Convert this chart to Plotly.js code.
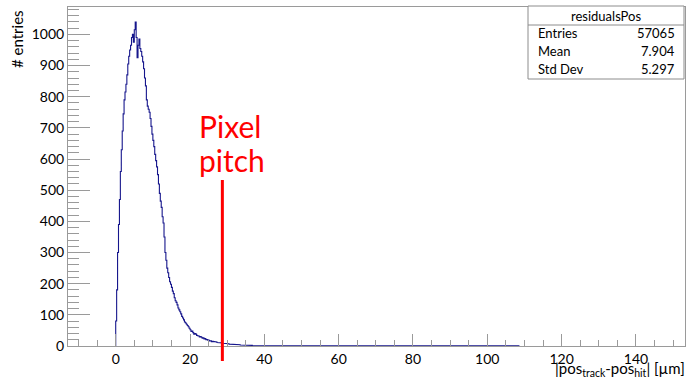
<!DOCTYPE html>
<html>
<head>
<meta charset="utf-8">
<script src="https://cdn.plot.ly/plotly-3.0.1.min.js"></script>
<style>html,body{margin:0;padding:0;background:#fff;}#chart{width:689px;height:379px;}</style>
</head>
<body>
<div id="chart"></div>
<script>
// ---- data ----
const histName = "residualsPos";
const binStart = 0;        // µm, lower edge of first bin
const binWidth = 0.25;     // µm
const counts = [
  80,180,300,390,470,560,630,690,745,790,815,840,870,905,930,950,965,990,1000,975,
  1015,1040,990,925,965,985,955,945,930,912,890,860,835,790,770,760,750,730,705,680,
  660,640,615,595,575,550,520,490,465,445,415,395,350,300,275,250,235,220,206,198,
  188,176,168,155,145,140,132,122,116,110,103,95,90,84,77,74,70,66,62,57,
  52,47,48,43,38,40,38,34,33,32,29,30,28,25,26,23,24,20,21,19,
  18,16,17,14,15,14,14,12,13,11,12,10,11,10,10,9,9,8,8,7,
  7,7,6,6,6,5,5,5,4,5,4,4,4,4,3,4,3,3,3,2,
  3,2,3,2,2,2,2,1,2,2,1,2,1,1,2,1,1,1,1,1
];
// sparse tail: runs of non-empty bins [start, end] in µm with their count
const tailStart = [40.5, 42.5, 44.0, 46.5, 48.0, 52.0, 53.5, 56.0, 58.0, 62.5, 66.0, 68.0, 73.25, 80.75, 82.5, 86.0, 87.0, 89.5, 92.0, 96.25, 108.0];
const tailEnd   = [41.0, 43.25, 45.0, 47.5, 49.5, 53.0, 54.5, 57.5, 59.5, 63.5, 67.5, 69.25, 73.75, 81.75, 83.25, 86.5, 87.5, 90.0, 92.5, 96.75, 108.5];
const tailCount = [2, 2, 1, 2, 2, 2, 1, 2, 2, 2, 2, 2, 1, 2, 1, 1, 1, 2, 1, 1, 1];
const pixelPitch = 28.7;   // µm, red marker
const statLabels = ["Entries", "Mean", "Std Dev"];
const statValues = ["57065", "7.904", "5.297"];
const xTickVals = [0, 20, 40, 60, 80, 100, 120, 140];
const yTickVals = [0, 100, 200, 300, 400, 500, 600, 700, 800, 900, 1000];

// ---- build step outline ----
const xs = [binStart], ys = [0];
counts.forEach((c, i) => {
  const lo = binStart + i * binWidth, hi = lo + binWidth;
  xs.push(lo, hi); ys.push(c, c);
});
let last = binStart + counts.length * binWidth;
xs.push(last); ys.push(0);
tailStart.forEach((a, i) => {
  xs.push(a, a, tailEnd[i], tailEnd[i]);
  ys.push(0, tailCount[i], tailCount[i], 0);
});

const FONT = "Lato, 'Open Sans', sans-serif";
const AX = "#9a9a9a";

const trace = {
  x: xs, y: ys, type: "scatter", mode: "lines",
  line: {color: "rgb(22,22,140)", width: 1.1, shape: "linear"},
  hoverinfo: "skip", showlegend: false
};

const L = 68, R = 4, T = 7, B = 33, W = 689, H = 379;
const pw = W - L - R, ph = H - T - B;
const px = v => (v - L) / pw;
const py = v => (H - B - v) / ph;

const shapes = [
  {type: "line", xref: "x", yref: "paper", x0: pixelPitch, x1: pixelPitch, y0: py(361), y1: py(180),
   line: {color: "#ff0000", width: 3}},
  {type: "rect", xref: "paper", yref: "paper", x0: px(528), x1: px(684), y0: py(79), y1: py(6),
   line: {color: "#8c8c8c", width: 1}, fillcolor: "#ffffff"},
  {type: "line", xref: "paper", yref: "paper", x0: px(528), x1: px(684), y0: py(25), y1: py(25),
   line: {color: "#8c8c8c", width: 1}}
];

const annotations = [
  {xref: "paper", yref: "paper", x: px(606), y: py(16), text: histName, showarrow: false,
   font: {family: FONT, size: 13, color: "#000"}, xanchor: "center", yanchor: "middle"},
  {xref: "x", yref: "y", x: 21.9, y: 706, text: "Pixel", showarrow: false,
   font: {family: FONT, size: 30, color: "#ff0000"}, xanchor: "left", yanchor: "middle"},
  {xref: "x", yref: "y", x: 21.9, y: 597, text: "pitch", showarrow: false,
   font: {family: FONT, size: 30, color: "#ff0000"}, xanchor: "left", yanchor: "middle"},
  {xref: "paper", yref: "paper", x: px(687), y: py(369), text: "|pos<sub>track</sub>-pos<sub>hit</sub>| [µm]",
   showarrow: false, font: {family: FONT, size: 15, color: "#000"}, xanchor: "right", yanchor: "middle"},
  {xref: "paper", yref: "paper", x: px(17), y: py(8), text: "# entries", textangle: -90, showarrow: false,
   font: {family: FONT, size: 15, color: "#000"}, xanchor: "center", yanchor: "top"}
];
statLabels.forEach((lab, i) => {
  const yy = [33, 51, 69][i];
  annotations.push({xref: "paper", yref: "paper", x: px(536), y: py(yy), text: lab, showarrow: false,
    font: {family: FONT, size: 13, color: "#000"}, xanchor: "left", yanchor: "middle"});
  annotations.push({xref: "paper", yref: "paper", x: px(677), y: py(yy), text: statValues[i], showarrow: false,
    font: {family: FONT, size: 13, color: "#000"}, xanchor: "right", yanchor: "middle"});
});

const layout = {
  width: W, height: H,
  margin: {l: L, r: R, t: T, b: B, pad: 0},
  paper_bgcolor: "#fff", plot_bgcolor: "#fff",
  showlegend: false,
  font: {family: FONT, size: 14, color: "#000"},
  xaxis: {
    range: [-12.84, 153.2], showgrid: false, zeroline: false,
    showline: true, mirror: true, linecolor: AX, linewidth: 1,
    tickmode: "array", tickvals: xTickVals, ticks: "inside", ticklen: 12, tickcolor: AX, tickwidth: 1,
    minor: {dtick: 5, tick0: 0, ticks: "inside", ticklen: 6, tickcolor: AX, showgrid: false},
    tickfont: {family: FONT, size: 14, color: "#000"}
  },
  yaxis: {
    range: [0, 1088], showgrid: false, zeroline: false,
    showline: true, mirror: true, linecolor: AX, linewidth: 1,
    tickmode: "array", tickvals: yTickVals, ticks: "inside", ticklen: 22, tickcolor: AX, tickwidth: 1,
    minor: {dtick: 20, tick0: 0, ticks: "inside", ticklen: 11, tickcolor: AX, showgrid: false},
    tickfont: {family: FONT, size: 14, color: "#000"}
  },
  shapes: shapes,
  annotations: annotations
};

Plotly.newPlot("chart", [trace], layout, {displayModeBar: false, staticPlot: true});
</script>
</body>
</html>
